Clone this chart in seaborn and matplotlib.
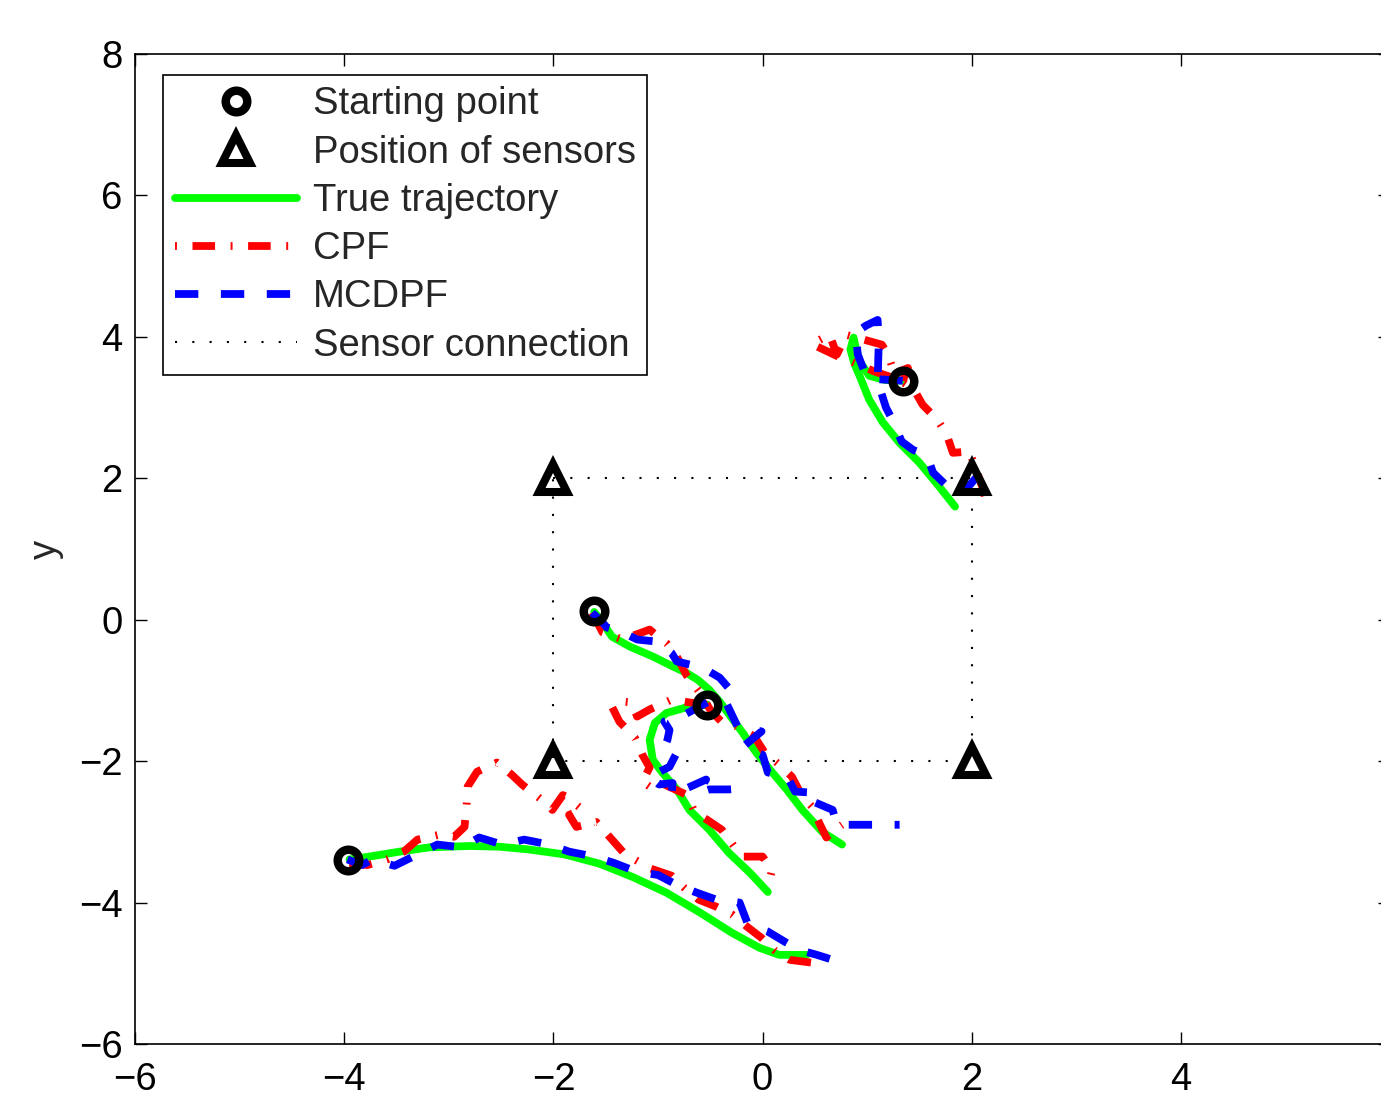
import matplotlib
matplotlib.use("Agg")
import matplotlib.pyplot as plt
from matplotlib.lines import Line2D
import seaborn as sns

# ---- data (x, y in axis units) ----
# target 1
true1_x = [-3.95, -3.76, -3.47, -3.19, -2.80, -2.52, -2.23, -1.89, -1.56, -1.24, -0.92, -0.60, -0.29, -0.03, 0.16, 0.42]
true1_y = [-3.39, -3.35, -3.28, -3.22, -3.20, -3.21, -3.25, -3.32, -3.45, -3.64, -3.86, -4.14, -4.43, -4.64, -4.74, -4.74]
cpf1_x = [-3.95, -3.78, -3.59, -3.43, -3.30, -3.09, -2.95, -2.85, -2.83, -2.82, -2.73, -2.54, -2.40, -2.30, -2.11,
          -2.01, -1.91, -1.88, -1.72, -1.85, -1.78, -1.59, -1.44, -1.32, -1.07, -0.87, -0.75, -0.61, -0.44, -0.29,
          -0.15, -0.01, 0.11, 0.26, 0.47]
cpf1_y = [-3.44, -3.47, -3.39, -3.28, -3.11, -3.04, -3.07, -2.93, -2.62, -2.36, -2.15, -2.02, -2.19, -2.33, -2.55,
          -2.69, -2.48, -2.50, -2.69, -2.76, -2.93, -2.86, -3.11, -3.31, -3.52, -3.62, -3.79, -3.96, -4.06, -4.17,
          -4.34, -4.50, -4.67, -4.81, -4.85]
mcdpf1_x = [-3.97, -3.83, -3.73, -3.52, -3.30, -3.11, -2.87, -2.71, -2.49, -2.28, -2.04, -1.85, -1.61, -1.42, -1.21,
            -1.00, -0.82, -0.63, -0.44, -0.22, -0.14, 0.05, 0.23, 0.35, 0.52, 0.67]
mcdpf1_y = [-3.39, -3.47, -3.39, -3.48, -3.32, -3.18, -3.22, -3.08, -3.18, -3.11, -3.18, -3.28, -3.35, -3.44, -3.56,
            -3.61, -3.75, -3.86, -3.96, -4.00, -4.31, -4.41, -4.57, -4.67, -4.74, -4.81]

# target 2
true2_x = [-1.61, -1.53, -1.44, -1.27, -1.05, -0.86, -0.73, -0.62, -0.51, -0.41, -0.32, -0.19, -0.06, 0.07, 0.23, 0.38, 0.57, 0.76]
true2_y = [0.11, -0.04, -0.24, -0.38, -0.52, -0.66, -0.75, -0.85, -0.99, -1.16, -1.34, -1.60, -1.88, -2.12, -2.40, -2.69, -3.00, -3.18]
cpf2_x = [-1.63, -1.53, -1.34, -1.08, -1.00, -0.92, -0.82, -0.73, -0.60, -0.49, -0.38, -0.25, -0.08, 0.02, 0.16,
          0.28, 0.38, 0.47, 0.55, 0.61, 0.69, 0.76]
cpf2_y = [0.10, -0.18, -0.28, -0.14, -0.24, -0.33, -0.52, -0.78, -1.03, -1.30, -1.46, -1.51, -1.65, -1.88, -2.05,
          -2.22, -2.50, -2.64, -2.90, -3.08, -2.97, -2.90]
mcdpf2_x = [-1.63, -1.53, -1.49, -1.35, -1.20, -1.01, -0.87, -0.82, -0.57, -0.41, -0.27, -0.34, -0.24, -0.01, -0.19,
            0.00, 0.05, 0.24, 0.31, 0.52, 0.48, 0.67, 0.71, 0.98, 1.31]
mcdpf2_y = [0.10, -0.04, -0.11, -0.17, -0.28, -0.31, -0.47, -0.59, -0.68, -0.82, -1.06, -1.20, -1.51, -1.58, -1.80,
            -1.91, -2.16, -2.23, -2.43, -2.45, -2.57, -2.69, -2.90, -2.90, -2.90]

# target 3
true3_x = [-0.53, -0.73, -0.92, -1.03, -1.08, -1.05, -0.96, -0.82, -0.70, -0.51, -0.32, -0.12, 0.05]
true3_y = [-1.20, -1.24, -1.32, -1.46, -1.70, -1.98, -2.16, -2.40, -2.69, -2.97, -3.30, -3.58, -3.85]
cpf3_x = [-0.53, -0.70, -0.87, -1.08, -1.20, -1.25, -1.32, -1.44, -1.37, -1.22, -1.15, -1.08, -1.15, -1.08, -0.94,
          -0.72, -0.65, -0.53, -0.39, -0.27, -0.19, 0.00, 0.09, 0.05]
cpf3_y = [-1.20, -1.17, -1.13, -1.27, -1.37, -1.17, -1.16, -1.23, -1.44, -1.67, -1.91, -2.09, -2.29, -2.36, -2.33,
          -2.48, -2.72, -2.83, -2.97, -3.21, -3.35, -3.35, -3.54, -3.79]
mcdpf3_x = [-0.53, -0.78, -0.94, -0.89, -0.91, -0.94, -0.82, -0.89, -1.08, -0.99, -0.86, -0.87, -0.54, -0.62, -0.51,
            -0.32, -0.12]
mcdpf3_y = [-1.17, -1.37, -1.44, -1.56, -1.70, -1.81, -1.88, -2.08, -2.22, -2.33, -2.31, -2.48, -2.26, -2.45, -2.40,
            -2.40, -2.38]

# target 4
true4_x = [1.34, 1.17, 1.02, 0.93, 0.89, 0.87, 0.84, 0.88, 0.93, 1.02, 1.15, 1.31, 1.50, 1.69, 1.84]
true4_y = [3.38, 3.39, 3.45, 3.65, 3.85, 3.99, 3.82, 3.61, 3.44, 3.11, 2.79, 2.50, 2.22, 1.88, 1.60]
cpf4_x = [1.34, 1.39, 1.26, 1.20, 1.14, 0.80, 0.71, 0.64, 0.47, 0.71, 0.85, 1.07, 1.31, 1.45, 1.53, 1.67, 1.76,
          1.82, 1.98, 2.00, 2.10, 2.15]
cpf4_y = [3.38, 3.56, 3.48, 3.75, 3.89, 4.03, 3.75, 4.03, 3.90, 3.73, 3.65, 3.51, 3.39, 3.25, 3.04, 2.83, 2.62,
          2.36, 2.38, 2.29, 1.88, 1.60]
mcdpf4_x = [1.34, 1.00, 0.91, 0.89, 0.99, 1.10, 1.11, 1.10, 1.18, 1.24, 1.33, 1.44, 1.57, 1.63, 1.77, 1.87, 1.96, 2.06]
mcdpf4_y = [3.38, 3.41, 3.75, 4.06, 4.16, 4.24, 3.89, 3.37, 3.00, 2.83, 2.52, 2.40, 2.33, 2.08, 1.88, 1.77, 1.87, 2.04]

start_x = [-3.96, -1.61, -0.53, 1.34]
start_y = [-3.40, 0.12, -1.20, 3.38]
sensor_x = [-2, 2, -2, 2]
sensor_y = [2, 2, -2, -2]
# sensor connections (square)
link_x = [-2, 2, 2, -2, -2]
link_y = [2, 2, -2, -2, 2]

legend_labels = ["Starting point", "Position of sensors", "True trajectory",
                 "CPF", "MCDPF", "Sensor connection"]

GREEN = "#00ff00"
RED = "#ff0000"
BLUE = "#0000ff"
LW = 5.6
CPF_LS = (0, (2.9, 2.0, 0.25, 2.0))
MCDPF_LS = (0, (3.0, 2.9))
LINK_LS = (0, (1, 7.3))
FS = 27.5

sns.set_style("ticks")
plt.rcParams["font.family"] = ["Liberation Sans", "DejaVu Sans"]
plt.rcParams["axes.linewidth"] = 1.2

fig = plt.figure(figsize=(13.81, 10.98), dpi=100)
ax = fig.add_axes([0.0978, 0.0492, 0.9088, 0.9016])

common = dict(ax=ax, sort=False, estimator=None, legend=False)

sns.lineplot(x=link_x, y=link_y, color="k", lw=1.5, linestyle=LINK_LS, **common)

trues = [(true1_x, true1_y), (true2_x, true2_y), (true3_x, true3_y), (true4_x, true4_y)]
cpfs = [(cpf1_x, cpf1_y), (cpf2_x, cpf2_y), (cpf3_x, cpf3_y), (cpf4_x, cpf4_y)]
mcdpfs = [(mcdpf1_x, mcdpf1_y), (mcdpf2_x, mcdpf2_y), (mcdpf3_x, mcdpf3_y), (mcdpf4_x, mcdpf4_y)]

for tx, ty in trues:
    sns.lineplot(x=tx, y=ty, color=GREEN, lw=5.6, solid_capstyle="round", **common)
for tx, ty in cpfs:
    sns.lineplot(x=tx, y=ty, color=RED, lw=LW, linestyle=CPF_LS, **common)
for tx, ty in mcdpfs:
    sns.lineplot(x=tx, y=ty, color=BLUE, lw=LW, linestyle=MCDPF_LS, **common)

sns.lineplot(x=start_x, y=start_y, color="k", linestyle="", marker="o", markersize=15.5,
             markeredgewidth=6.1, markeredgecolor="k", markerfacecolor="none", **common)
sns.lineplot(x=sensor_x, y=sensor_y, color="k", linestyle="", marker="^", markersize=20,
             markeredgewidth=5.8, markeredgecolor="k", markerfacecolor="none", **common)

ax.set_xlim(-6, 6)
ax.set_ylim(-6, 8)
ax.set_xticks(range(-6, 7, 2))
ax.set_yticks(range(-6, 9, 2))
ax.tick_params(direction="in", length=8.5, width=1.0, top=True, right=True,
               labelsize=FS, colors="k")
ax.tick_params(axis="x", pad=13)
ax.tick_params(axis="y", pad=9)
for sp in ax.spines.values():
    sp.set_color("k")
ax.set_ylabel("y", fontsize=FS)
ax.yaxis.set_label_coords(-0.057, 0.5)

handles = [
    Line2D([], [], ls="none", marker="o", ms=15.5, mew=6.1, mec="k", mfc="w"),
    Line2D([], [], ls="none", marker="^", ms=20, mew=5.8, mec="k", mfc="w"),
    Line2D([], [], color=GREEN, lw=5.6),
    Line2D([], [], color=RED, lw=LW, ls=(4.9, (2.9, 2.0, 0.25, 2.0))),
    Line2D([], [], color=BLUE, lw=LW, ls=MCDPF_LS),
    Line2D([], [], color="k", lw=1.5, ls=LINK_LS),
]
leg = ax.legend(handles, legend_labels, loc="upper left", bbox_to_anchor=(0.0223, 0.9788),
                borderaxespad=0, fontsize=FS, handlelength=3.2, handletextpad=0.42,
                labelspacing=0.32, borderpad=0.3, fancybox=False, framealpha=1,
                edgecolor="k")
leg.get_frame().set_linewidth(1.2)

fig.savefig("out.png", dpi=100)
